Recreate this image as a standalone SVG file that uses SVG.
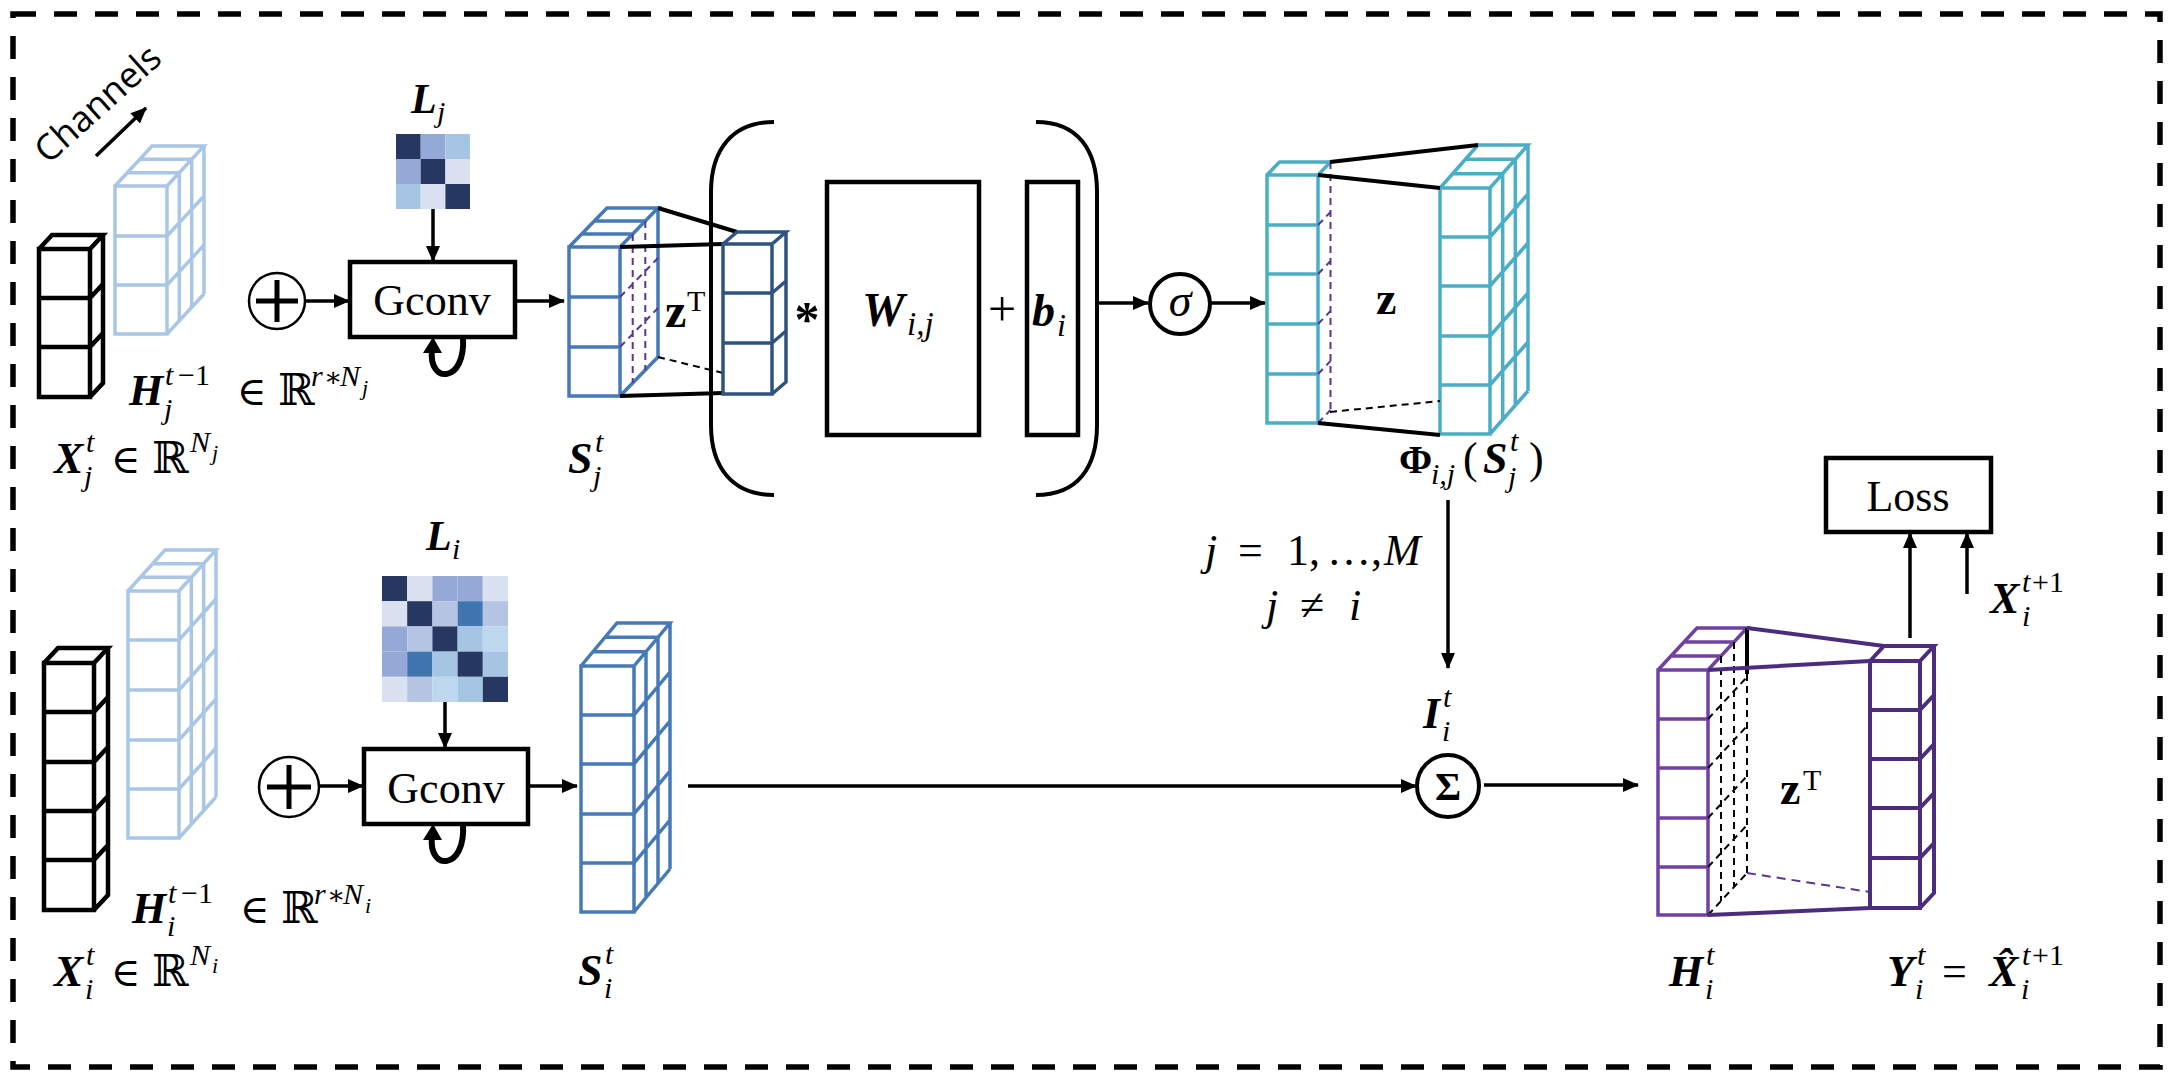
<svg xmlns="http://www.w3.org/2000/svg" width="2174" height="1082" viewBox="0 0 2174 1082">
<defs>
<style>
.bk{fill:none;stroke:#000;stroke-width:4.5}
.lb{fill:none;stroke:#A9C6E6;stroke-width:3.5}
.sb{fill:none;stroke:#4679B7;stroke-width:3.5}
.db{fill:none;stroke:#2E5382;stroke-width:3.5}
.cy{fill:none;stroke:#4BADC6;stroke-width:3.5}
.pu{fill:none;stroke:#7040A2;stroke-width:3.5}
.dp{fill:none;stroke:#4C2C7C;stroke-width:4}
.dashp{fill:none;stroke:#5B3590;stroke-width:2;stroke-dasharray:7 5}
.dashk{fill:none;stroke:#000;stroke-width:2;stroke-dasharray:7 5}
.pl{fill:none;stroke:#000;stroke-width:4}
.arr{fill:none;stroke:#000;stroke-width:3.5;marker-end:url(#ah)}
.box{fill:none;stroke:#000;stroke-width:4.5}
.circ{fill:#fff;stroke:#000;stroke-width:4}
.t{font-family:"Liberation Serif",serif;fill:#000}
.mb{font-family:"Liberation Serif",serif;font-weight:bold;font-style:italic}
.mi{font-family:"Liberation Serif",serif;font-style:italic}
.up{font-family:"Liberation Serif",serif;font-style:normal;font-weight:normal}
.sym{font-family:"DejaVu Serif","DejaVu Sans",serif;font-style:normal;font-weight:normal}
.s{font-size:30px}
</style>
<marker id="ah" viewBox="0 0 16 14" refX="15" refY="7" markerWidth="16" markerHeight="14" markerUnits="userSpaceOnUse" orient="auto">
<path d="M0,0 L16,7 L0,14 z" fill="#000"/>
</marker>
</defs>
<rect width="2174" height="1082" fill="#fff"/>
<rect id="frame" x="13" y="14" width="2147" height="1053" fill="none" stroke="#000" stroke-width="5.5" stroke-dasharray="23 18"/>

<g id="channels">
<text transform="translate(106,113) rotate(-42)" text-anchor="middle" font-family="Open Sans, sans-serif" font-size="36">Channels</text>
<line class="arr" x1="96" y1="156" x2="146" y2="108" stroke-width="4"/>
</g>

<g id="Xj">
<path class="bk" d="M39 249H90V397H39Z M39 298H90 M39 347H90 M39 249L52 235H103L90 249 M103 235V383L90 397 M90 298L103 284 M90 347L103 333"/>
<text class="t" font-size="44"><tspan class="mb" x="54" y="473">X</tspan><tspan class="mi s" x="86" y="452">t</tspan><tspan class="mi s" x="84" y="486">j</tspan><tspan class="sym" font-size="40" x="111" y="473">∈</tspan><tspan class="sym" x="152" y="473">ℝ</tspan><tspan class="mi s" x="190" y="452">N</tspan><tspan class="mi" font-size="22" x="212" y="460">j</tspan></text>
</g>

<g id="Hj">
<path class="lb" d="M115 186H167V334H115Z M115 236H167 M115 285H167 M115 186L152 146H204L167 186 M127.3 172.7H179.3 M139.7 159.3H191.7 M179.3 172.7V320.7 M191.7 159.3V307.3 M204 146V294 M167 236L204 196 M167 285L204 245 M167 334L204 294"/>
<text class="t" font-size="44"><tspan class="mb" x="129" y="405">H</tspan><tspan class="mi s" x="165" y="385">t</tspan><tspan class="up s" x="178" y="385">−1</tspan><tspan class="mi s" x="164" y="419">j</tspan><tspan class="sym" font-size="40" x="237" y="405">∈</tspan><tspan class="sym" x="278" y="405">ℝ</tspan><tspan class="mi s" x="311" y="386">r</tspan><tspan class="sym" font-size="27" x="324" y="386">∗</tspan><tspan class="mi s" x="340" y="386">N</tspan><tspan class="mi" font-size="22" x="362" y="395">j</tspan></text>
</g>

<g id="plus_j">
<circle cx="277" cy="301" r="28" fill="none" stroke="#000" stroke-width="2.5"/>
<path d="M256 301H298 M277 280V322" stroke="#000" stroke-width="5"/>
</g>

<g id="Lj">
<rect x="396" y="134" width="24.7" height="25" fill="#263862"/>
<rect x="420.7" y="134" width="24.7" height="25" fill="#94A9D5"/>
<rect x="445.4" y="134" width="24.6" height="25" fill="#A6C4E4"/>
<rect x="396" y="159" width="24.7" height="25" fill="#94A9D5"/>
<rect x="420.7" y="159" width="24.7" height="25" fill="#263862"/>
<rect x="445.4" y="159" width="24.6" height="25" fill="#DAE1F1"/>
<rect x="396" y="184" width="24.7" height="25" fill="#A6C4E4"/>
<rect x="420.7" y="184" width="24.7" height="25" fill="#DAE1F1"/>
<rect x="445.4" y="184" width="24.6" height="25" fill="#263862"/>
<text class="t" font-size="42"><tspan class="mb" x="411" y="113">L</tspan><tspan class="mi" font-size="30" x="437" y="122">j</tspan></text>
</g>

<g id="gconv_j">
<rect class="box" x="350" y="262" width="165" height="75"/>
<text class="t" x="432" y="315" font-size="44" text-anchor="middle">Gconv</text>
<path d="M463 337C466 384 428 384 432 350" fill="none" stroke="#000" stroke-width="6"/>
<path d="M423 353L442 353L433 337Z" fill="#000"/>
</g>

<g id="Sj">
<path class="sb" d="M569 247H620V396H569Z M569 297H620 M569 347H620 M569 247L607 208H658L620 247 M581.7 234H632.7 M594.3 221H645.3 M658 208V357L620 396"/>
<path class="dashp" d="M632.7 234V383 M645.3 221V370 M620 297L658 258 M620 347L658 308"/>
<path class="pl" d="M658 208L737 232 M620 247L723 244 M620 396L723 393"/>
<path class="dashk" d="M658 357L723 373"/>
<text class="t" font-size="44"><tspan class="mb" x="568" y="473">S</tspan><tspan class="mi s" x="595" y="452">t</tspan><tspan class="mi s" x="593" y="486">j</tspan></text>
<text class="t" font-size="48"><tspan font-weight="bold" x="665" y="327">z</tspan><tspan font-size="30" x="687" y="311">T</tspan></text>
</g>

<g id="zTj">
<path class="db" d="M723 244H772V394H723Z M723 293H772 M723 343H772 M723 244L737 232H786L772 244 M786 232V382L772 394 M772 293L786 281 M772 343L786 331"/>
</g>

<g id="affine">
<path class="pl" d="M774 122C732 122 711 150 711 192L711 425C711 467 732 495 774 495"/>
<path class="pl" d="M1036 122C1078 122 1097 150 1097 192L1097 425C1097 467 1078 495 1036 495"/>
<text class="t" x="807" y="336" font-size="50" font-weight="bold" text-anchor="middle">*</text>
<rect class="box" x="827" y="182" width="152" height="253"/>
<text class="t" font-size="48"><tspan class="mb" x="862" y="326">W</tspan><tspan class="mi" font-size="33" x="907" y="335">i,j</tspan></text>
<text class="t" x="1002" y="326" font-size="50" text-anchor="middle">+</text>
<rect class="box" x="1027" y="182" width="51" height="253"/>
<text class="t" font-size="46"><tspan class="mb" x="1032" y="326">b</tspan><tspan class="mi" font-size="32" x="1057" y="336">i</tspan></text>
</g>

<g id="sigma">
<circle class="circ" cx="1180" cy="304" r="30"/>
<text class="t mi" x="1180" y="316" font-size="46" text-anchor="middle">σ</text>
</g>

<g id="phi">
<path class="cy" d="M1267 175H1318V423H1267Z M1267 225H1318 M1267 274H1318 M1267 324H1318 M1267 374H1318 M1267 175L1279.5 162H1330.5L1318 175"/>
<path class="dashp" d="M1330.5 162V410 M1318 225L1330.5 212 M1318 274L1330.5 261 M1318 324L1330.5 311 M1318 374L1330.5 361 M1318 423L1330.5 410"/>
<path class="cy" d="M1440 188H1490V434H1440Z M1440 237H1490 M1440 286H1490 M1440 336H1490 M1440 385H1490 M1440 188L1478 145H1528L1490 188 M1452.7 173.7H1502.7 M1465.3 159.3H1515.3 M1502.7 173.7V419.7 M1515.3 159.3V405.3 M1528 145V391 M1490 237L1528 194 M1490 286L1528 243 M1490 336L1528 293 M1490 385L1528 342 M1490 434L1528 391"/>
<path class="pl" d="M1330 162L1478 145 M1318 175L1440 188 M1318 423L1440 435"/>
<path class="dashk" d="M1330 412L1440 401"/>
<text class="t" x="1376" y="314" font-size="46" font-weight="bold">z</text>
<text class="t" font-size="44"><tspan font-weight="bold" font-size="40" x="1399" y="473">Φ</tspan><tspan class="mi s" x="1431" y="484">i,j</tspan><tspan x="1463" y="473">(</tspan><tspan class="mb" x="1483" y="473">S</tspan><tspan class="mi s" x="1510" y="451">t</tspan><tspan class="mi s" x="1508" y="487">j</tspan><tspan x="1529" y="473">)</tspan></text>
</g>

<g id="range">
<text class="t" font-size="44"><tspan class="mi" x="1205" y="565">j</tspan><tspan x="1238" y="565">=</tspan><tspan x="1287" y="565">1,</tspan><tspan x="1327" y="565">…,</tspan><tspan class="mi" x="1384" y="565">M</tspan></text>
<text class="t" font-size="44"><tspan class="mi" x="1266" y="620">j</tspan><tspan x="1300" y="620">≠</tspan><tspan class="mi" x="1349" y="620">i</tspan></text>
</g>

<g id="Xi">
<path class="bk" d="M44 663H94V910H44Z M44 712H94 M44 762H94 M44 811H94 M44 860H94 M44 663L58 648H108L94 663 M108 648V895L94 910 M94 712L108 697 M94 762L108 747 M94 811L108 796 M94 860L108 845"/>
<text class="t" font-size="44"><tspan class="mb" x="54" y="986">X</tspan><tspan class="mi s" x="86" y="965">t</tspan><tspan class="mi s" x="85" y="999">i</tspan><tspan class="sym" font-size="40" x="111" y="986">∈</tspan><tspan class="sym" x="152" y="986">ℝ</tspan><tspan class="mi s" x="190" y="965">N</tspan><tspan class="mi" font-size="22" x="212" y="973">i</tspan></text>
</g>

<g id="Hi">
<path class="lb" d="M128 591H179V838H128Z M128 640H179 M128 690H179 M128 740H179 M128 789H179 M128 591L165 550H216L179 591 M140.3 577.3H191.3 M152.7 563.7H203.7 M191.3 577.3V824.3 M203.7 563.7V810.7 M216 550V797 M179 640L216 599 M179 690L216 649 M179 740L216 699 M179 789L216 748 M179 838L216 797"/>
<text class="t" font-size="44"><tspan class="mb" x="132" y="923">H</tspan><tspan class="mi s" x="168" y="903">t</tspan><tspan class="up s" x="181" y="903">−1</tspan><tspan class="mi s" x="167" y="936">i</tspan><tspan class="sym" font-size="40" x="240" y="923">∈</tspan><tspan class="sym" x="281" y="923">ℝ</tspan><tspan class="mi s" x="314" y="904">r</tspan><tspan class="sym" font-size="27" x="327" y="904">∗</tspan><tspan class="mi s" x="343" y="904">N</tspan><tspan class="mi" font-size="22" x="365" y="913">i</tspan></text>
</g>

<g id="plus_i">
<circle cx="289" cy="787" r="30" fill="none" stroke="#000" stroke-width="2.5"/>
<path d="M267 787H311 M289 765V809" stroke="#000" stroke-width="5"/>
</g>

<g id="Li">
<rect x="382" y="576" width="25.2" height="25.2" fill="#263862"/>
<rect x="407.2" y="576" width="25.2" height="25.2" fill="#DAE1F1"/>
<rect x="432.4" y="576" width="25.2" height="25.2" fill="#94A9D5"/>
<rect x="457.6" y="576" width="25.2" height="25.2" fill="#94A9D5"/>
<rect x="482.8" y="576" width="25.2" height="25.2" fill="#DAE1F1"/>
<rect x="382" y="601.2" width="25.2" height="25.2" fill="#DAE1F1"/>
<rect x="407.2" y="601.2" width="25.2" height="25.2" fill="#263862"/>
<rect x="432.4" y="601.2" width="25.2" height="25.2" fill="#B4C4E2"/>
<rect x="457.6" y="601.2" width="25.2" height="25.2" fill="#4175B0"/>
<rect x="482.8" y="601.2" width="25.2" height="25.2" fill="#B4C4E2"/>
<rect x="382" y="626.4" width="25.2" height="25.2" fill="#94A9D5"/>
<rect x="407.2" y="626.4" width="25.2" height="25.2" fill="#B4C4E2"/>
<rect x="432.4" y="626.4" width="25.2" height="25.2" fill="#263862"/>
<rect x="457.6" y="626.4" width="25.2" height="25.2" fill="#A6C4E4"/>
<rect x="482.8" y="626.4" width="25.2" height="25.2" fill="#BDD7EE"/>
<rect x="382" y="651.6" width="25.2" height="25.2" fill="#94A9D5"/>
<rect x="407.2" y="651.6" width="25.2" height="25.2" fill="#4175B0"/>
<rect x="432.4" y="651.6" width="25.2" height="25.2" fill="#A6C4E4"/>
<rect x="457.6" y="651.6" width="25.2" height="25.2" fill="#263862"/>
<rect x="482.8" y="651.6" width="25.2" height="25.2" fill="#A6C4E4"/>
<rect x="382" y="676.8" width="25.2" height="25.2" fill="#DAE1F1"/>
<rect x="407.2" y="676.8" width="25.2" height="25.2" fill="#B4C4E2"/>
<rect x="432.4" y="676.8" width="25.2" height="25.2" fill="#BDD7EE"/>
<rect x="457.6" y="676.8" width="25.2" height="25.2" fill="#A6C4E4"/>
<rect x="482.8" y="676.8" width="25.2" height="25.2" fill="#263862"/>
<text class="t" font-size="42"><tspan class="mb" x="426" y="550">L</tspan><tspan class="mi" font-size="30" x="452" y="559">i</tspan></text>
</g>

<g id="gconv_i">
<rect class="box" x="364" y="749" width="164" height="75"/>
<text class="t" x="446" y="803" font-size="44" text-anchor="middle">Gconv</text>
<path d="M463 824C466 871 428 871 432 837" fill="none" stroke="#000" stroke-width="6"/>
<path d="M423 840L442 840L433 824Z" fill="#000"/>
</g>

<g id="Si">
<path class="sb" d="M581 666H634V912H581Z M581 715H634 M581 764H634 M581 814H634 M581 863H634 M581 666L617 623H670L634 666 M593 651.7H646 M605 637.3H658 M646 651.7V897.7 M658 637.3V883.3 M670 623V869 M634 715L670 672 M634 764L670 721 M634 814L670 771 M634 863L670 820 M634 912L670 869"/>
<text class="t" font-size="44"><tspan class="mb" x="578" y="985">S</tspan><tspan class="mi s" x="605" y="964">t</tspan><tspan class="mi s" x="604" y="998">i</tspan></text>
</g>

<g id="sum">
<circle class="circ" cx="1448" cy="786" r="31"/>
<text class="t" x="1448" y="800" font-size="40" font-weight="bold" text-anchor="middle">Σ</text>
<text class="t" font-size="44"><tspan class="mb" x="1423" y="728">I</tspan><tspan class="mi s" x="1443" y="707">t</tspan><tspan class="mi s" x="1442" y="741">i</tspan></text>
</g>

<g id="Hit">
<path class="pu" d="M1658 670H1708V915H1658Z M1658 719H1708 M1658 768H1708 M1658 818H1708 M1658 867H1708 M1658 670L1697 628H1747L1708 670 M1671 656H1721 M1684 642H1734"/>
<path class="dashk" d="M1721 656V901 M1734 642V887 M1747 674V873 M1708 719L1747 677 M1708 768L1747 726 M1708 818L1747 776 M1708 867L1747 825 M1708 915L1747 873"/>
<path d="M1747 628V674" stroke="#000" stroke-width="4"/>
<path class="dp" d="M1747 628L1884 646 M1708 670L1870 661 M1708 915L1870 908"/>
<path fill="none" stroke="#5B3590" stroke-width="2" stroke-dasharray="9 6" d="M1747 873L1870 892"/>
<text class="t" font-size="44"><tspan class="mb" x="1669" y="986">H</tspan><tspan class="mi s" x="1706" y="965">t</tspan><tspan class="mi s" x="1705" y="999">i</tspan></text>
<text class="t" font-size="46"><tspan font-weight="bold" x="1780" y="804">z</tspan><tspan font-size="30" x="1803" y="790">T</tspan></text>
</g>

<g id="Yit">
<path class="dp" d="M1870 661H1920V908H1870Z M1870 710H1920 M1870 759H1920 M1870 808H1920 M1870 858H1920 M1870 661L1884 646H1934L1920 661 M1934 646V893L1920 908 M1920 710L1934 695 M1920 759L1934 744 M1920 808L1934 793 M1920 858L1934 843"/>
<text class="t" font-size="44"><tspan class="mb" x="1887" y="986">Y</tspan><tspan class="mi s" x="1917" y="965">t</tspan><tspan class="mi s" x="1915" y="999">i</tspan><tspan x="1942" y="986">=</tspan><tspan class="mb" x="1989" y="986">X̂</tspan><tspan class="mi s" x="2022" y="965">t</tspan><tspan class="up s" x="2032" y="965">+1</tspan><tspan class="mi s" x="2021" y="999">i</tspan></text>
</g>

<g id="loss">
<rect class="box" x="1826" y="458" width="165" height="74"/>
<text class="t" x="1908" y="511" font-size="44" text-anchor="middle">Loss</text>
</g>

<g id="Xnext">
<text class="t" font-size="44"><tspan class="mb" x="1990" y="613">X</tspan><tspan class="mi s" x="2022" y="592">t</tspan><tspan class="up s" x="2032" y="592">+1</tspan><tspan class="mi s" x="2022" y="626">i</tspan></text>
</g>

<g id="connectors">
<line class="arr" x1="305" y1="301" x2="349" y2="301"/>
<line class="arr" x1="433" y1="209" x2="433" y2="261"/>
<line class="arr" x1="515" y1="301" x2="564" y2="301"/>
<line class="arr" x1="1097" y1="303" x2="1148" y2="303"/>
<line class="arr" x1="1211" y1="303" x2="1265" y2="303"/>
<line class="arr" x1="1448" y1="500" x2="1448" y2="668"/>
<line class="arr" x1="319" y1="786" x2="363" y2="786"/>
<line class="arr" x1="445" y1="702" x2="445" y2="748"/>
<line class="arr" x1="528" y1="786" x2="577" y2="786"/>
<line class="arr" x1="688" y1="786" x2="1416" y2="786"/>
<line class="arr" x1="1484" y1="785" x2="1638" y2="785"/>
<line class="arr" x1="1910" y1="638" x2="1910" y2="533"/>
<line class="arr" x1="1967" y1="594" x2="1967" y2="533"/>
</g>
</svg>
